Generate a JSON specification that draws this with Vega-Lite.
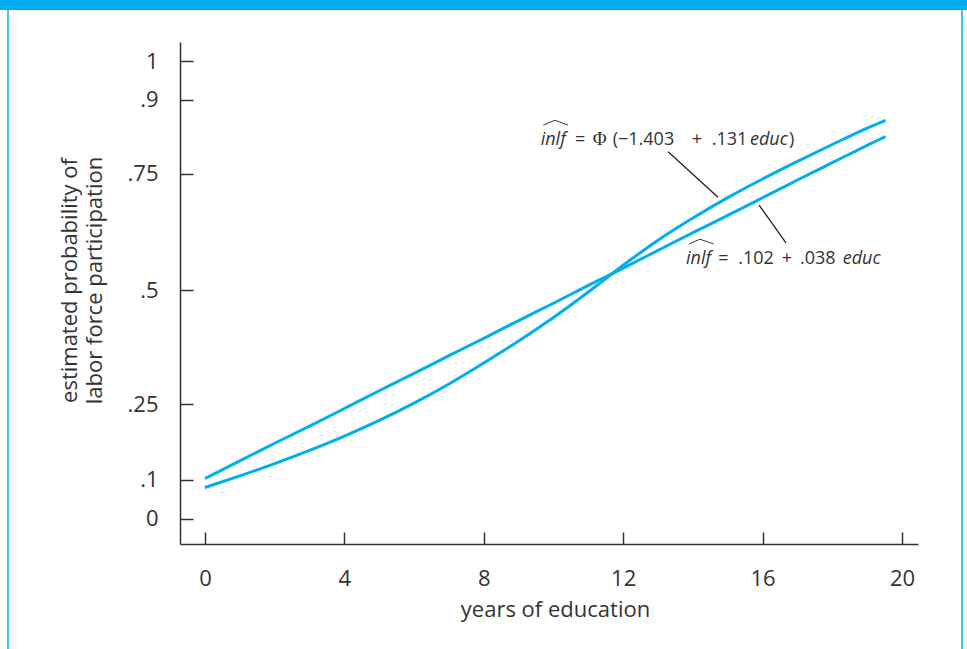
{
  "$schema": "https://vega.github.io/schema/vega-lite/v6.json",
  "width": 738,
  "height": 502,
  "autosize": {"type": "none"},
  "padding": {"left": 180, "top": 42, "right": 49, "bottom": 105},
  "background": "white",
  "config": {
    "view": {"stroke": null},
    "font": "Open Sans",
    "axis": {
      "grid": false,
      "domainColor": "#333333",
      "tickColor": "#333333",
      "labelColor": "#333333",
      "titleColor": "#333333",
      "labelFont": "Open Sans",
      "titleFont": "Open Sans",
      "labelFontSize": 22,
      "titleFontSize": 22,
      "titleFontWeight": "normal",
      "domainWidth": 1.5,
      "tickWidth": 1.5
    }
  },
  "datasets": {
    "curves": [
      {"educ": 0, "p": 0.102, "model": "linear"},
      {"educ": 1, "p": 0.137, "model": "linear"},
      {"educ": 2, "p": 0.172, "model": "linear"},
      {"educ": 3, "p": 0.206, "model": "linear"},
      {"educ": 4, "p": 0.241, "model": "linear"},
      {"educ": 5, "p": 0.279, "model": "linear"},
      {"educ": 6, "p": 0.317, "model": "linear"},
      {"educ": 7, "p": 0.356, "model": "linear"},
      {"educ": 8, "p": 0.394, "model": "linear"},
      {"educ": 9, "p": 0.433, "model": "linear"},
      {"educ": 10, "p": 0.471, "model": "linear"},
      {"educ": 11, "p": 0.510, "model": "linear"},
      {"educ": 12, "p": 0.547, "model": "linear"},
      {"educ": 13, "p": 0.585, "model": "linear"},
      {"educ": 14, "p": 0.623, "model": "linear"},
      {"educ": 15, "p": 0.660, "model": "linear"},
      {"educ": 16, "p": 0.698, "model": "linear"},
      {"educ": 17, "p": 0.736, "model": "linear"},
      {"educ": 18, "p": 0.772, "model": "linear"},
      {"educ": 19, "p": 0.807, "model": "linear"},
      {"educ": 19.53, "p": 0.825, "model": "linear"},
      {"educ": 0, "p": 0.0795, "model": "probit"},
      {"educ": 1, "p": 0.1072, "model": "probit"},
      {"educ": 2, "p": 0.1316, "model": "probit"},
      {"educ": 3, "p": 0.1578, "model": "probit"},
      {"educ": 4, "p": 0.1862, "model": "probit"},
      {"educ": 5, "p": 0.2174, "model": "probit"},
      {"educ": 6, "p": 0.252, "model": "probit"},
      {"educ": 7, "p": 0.2939, "model": "probit"},
      {"educ": 8, "p": 0.3399, "model": "probit"},
      {"educ": 9, "p": 0.3882, "model": "probit"},
      {"educ": 10, "p": 0.4397, "model": "probit"},
      {"educ": 11, "p": 0.4956, "model": "probit"},
      {"educ": 12, "p": 0.5532, "model": "probit"},
      {"educ": 13, "p": 0.6069, "model": "probit"},
      {"educ": 14, "p": 0.6545, "model": "probit"},
      {"educ": 15, "p": 0.6983, "model": "probit"},
      {"educ": 16, "p": 0.7382, "model": "probit"},
      {"educ": 17, "p": 0.7745, "model": "probit"},
      {"educ": 18, "p": 0.8088, "model": "probit"},
      {"educ": 19, "p": 0.842, "model": "probit"},
      {"educ": 19.53, "p": 0.8578, "model": "probit"}
    ],
    "pointers": [
      {"educ": 13.29, "p": 0.794, "id": "pointer1", "ord": 1},
      {"educ": 14.72, "p": 0.699, "id": "pointer1", "ord": 2},
      {"educ": 15.90, "p": 0.682, "id": "pointer2", "ord": 1},
      {"educ": 16.67, "p": 0.601, "id": "pointer2", "ord": 2}
    ],
    "hats": [
      {"educ": 9.71, "p": 0.848, "id": "hat1", "ord": 1},
      {"educ": 10.04, "p": 0.858, "id": "hat1", "ord": 2},
      {"educ": 10.42, "p": 0.848, "id": "hat1", "ord": 3},
      {"educ": 13.90, "p": 0.599, "id": "hat2", "ord": 1},
      {"educ": 14.20, "p": 0.609, "id": "hat2", "ord": 2},
      {"educ": 14.59, "p": 0.599, "id": "hat2", "ord": 3}
    ],
    "normalText": [
      {"educ": 10.617, "p": 0.808, "text": "="},
      {"educ": 11.699, "p": 0.808, "text": "(−1.403"},
      {"educ": 13.966, "p": 0.808, "text": "+"},
      {"educ": 14.539, "p": 0.808, "text": ".131"},
      {"educ": 16.76, "p": 0.808, "text": ")"},
      {"educ": 14.729, "p": 0.555, "text": "="},
      {"educ": 15.303, "p": 0.555, "text": ".102"},
      {"educ": 16.548, "p": 0.555, "text": "+"},
      {"educ": 17.073, "p": 0.555, "text": ".038"}
    ],
    "serifText": [
      {"educ": 11.125, "p": 0.808, "text": "Φ"}
    ],
    "italicText": [
      {"educ": 9.633, "p": 0.808, "text": "inlf"},
      {"educ": 15.638, "p": 0.808, "text": "educ"},
      {"educ": 13.802, "p": 0.555, "text": "inlf"},
      {"educ": 18.298, "p": 0.555, "text": "educ"}
    ]
  },
  "layer": [
    {
      "data": {"name": "curves"},
      "mark": {"type": "line", "color": "#00AEEF", "strokeWidth": 3, "interpolate": "monotone"},
      "encoding": {
        "x": {
          "field": "educ",
          "type": "quantitative",
          "scale": {"domain": [-0.717, 20.459], "nice": false, "zero": false},
          "axis": {
            "values": [0, 4, 8, 12, 16, 20],
            "tickSize": -12,
            "labelPadding": 36,
            "title": "years of education",
            "titlePadding": 10,
            "titleX": 375
          }
        },
        "y": {
          "field": "p",
          "type": "quantitative",
          "scale": {
            "domain": [-0.0654, 0, 0.1, 0.25, 0.5, 0.75, 0.9, 1, 1.0494],
            "range": [502, 476.5, 437.5, 362, 248, 131.5, 57.5, 19, 0],
            "nice": false,
            "zero": false
          },
          "axis": {
            "values": [0, 0.1, 0.25, 0.5, 0.75, 0.9, 1],
            "labelExpr": "datum.value == 0 ? '0' : datum.value == 1 ? '1' : substring(format(datum.value, '~g'), 1)",
            "tickSize": -13,
            "labelPadding": 35,
            "title": ["estimated probability of", "labor force participation"],
            "titleLineHeight": 25,
            "titlePadding": 21,
            "titleY": 238
          }
        },
        "detail": {"field": "model"}
      }
    },
    {
      "data": {"name": "pointers"},
      "mark": {"type": "line", "color": "#222222", "strokeWidth": 1.3},
      "encoding": {
        "x": {"field": "educ", "type": "quantitative"},
        "y": {"field": "p", "type": "quantitative"},
        "detail": {"field": "id"},
        "order": {"field": "ord"}
      }
    },
    {
      "data": {"name": "hats"},
      "mark": {"type": "line", "color": "#333333", "strokeWidth": 1},
      "encoding": {
        "x": {"field": "educ", "type": "quantitative"},
        "y": {"field": "p", "type": "quantitative"},
        "detail": {"field": "id"},
        "order": {"field": "ord"}
      }
    },
    {
      "data": {"name": "normalText"},
      "mark": {"type": "text", "align": "left", "baseline": "alphabetic", "font": "Open Sans", "fontSize": 18, "color": "#333333"},
      "encoding": {
        "x": {"field": "educ", "type": "quantitative"},
        "y": {"field": "p", "type": "quantitative"},
        "text": {"field": "text"}
      }
    },
    {
      "data": {"name": "serifText"},
      "mark": {"type": "text", "align": "left", "baseline": "alphabetic", "font": "Liberation Serif", "fontSize": 19, "color": "#333333"},
      "encoding": {
        "x": {"field": "educ", "type": "quantitative"},
        "y": {"field": "p", "type": "quantitative"},
        "text": {"field": "text"}
      }
    },
    {
      "data": {"name": "italicText"},
      "mark": {"type": "text", "align": "left", "baseline": "alphabetic", "font": "Open Sans", "fontSize": 18, "fontStyle": "italic", "color": "#333333"},
      "encoding": {
        "x": {"field": "educ", "type": "quantitative"},
        "y": {"field": "p", "type": "quantitative"},
        "text": {"field": "text"}
      }
    },
    {
      "data": {"values": [{}]},
      "mark": {"type": "rect", "color": "#00AEEF", "clip": false},
      "encoding": {
        "x": {"datum": -6.2, "type": "quantitative"},
        "x2": {"datum": 22.2},
        "y": {"datum": 1.1585, "type": "quantitative"},
        "y2": {"datum": 1.1325}
      }
    },
    {
      "data": {"values": [{}]},
      "mark": {"type": "rule", "color": "#00AEEF", "strokeWidth": 1.5, "clip": false},
      "encoding": {
        "x": {"datum": -5.653, "type": "quantitative"},
        "y": {"datum": 1.1325, "type": "quantitative"},
        "y2": {"datum": -0.4}
      }
    },
    {
      "data": {"values": [{}]},
      "mark": {"type": "rule", "color": "#00AEEF", "strokeWidth": 1.5, "clip": false},
      "encoding": {
        "x": {"datum": 21.722, "type": "quantitative"},
        "y": {"datum": 1.1325, "type": "quantitative"},
        "y2": {"datum": -0.4}
      }
    }
  ]
}
